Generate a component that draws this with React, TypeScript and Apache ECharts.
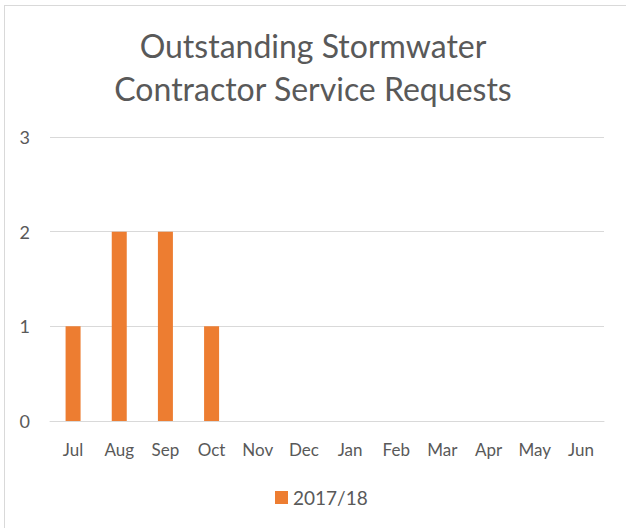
import React, { useEffect, useRef } from "react";
import * as echarts from "echarts";

const titleLines = ["Outstanding Stormwater", "Contractor Service Requests"];
const months = ["Jul", "Aug", "Sep", "Oct", "Nov", "Dec", "Jan", "Feb", "Mar", "Apr", "May", "Jun"];
const seriesName = "2017/18";
const values: (number | null)[] = [1, 2, 2, 1, null, null, null, null, null, null, null, null];
const yMin = 0;
const yMax = 3;
const yInterval = 1;

const FONT = "Lato";
const TEXT = "#595959";

export default function App() {
  const ref = useRef<HTMLDivElement>(null);
  useEffect(() => {
    if (!ref.current) return;
    const chart = echarts.init(ref.current, undefined, { renderer: "svg" });
    chart.setOption({
      animation: false,
      backgroundColor: "#ffffff",
      textStyle: { fontFamily: FONT },
      title: {
        text: titleLines.join("\n"),
        left: "center",
        top: 19,
        textStyle: { fontFamily: FONT, fontSize: 32, fontWeight: "normal", color: TEXT, lineHeight: 43 },
      },
      grid: { left: 50, right: 22, top: 137, bottom: 107, containLabel: false },
      xAxis: {
        type: "category",
        data: months,
        axisLine: { show: true, lineStyle: { color: "#d9d9d9", width: 1 } },
        axisTick: { show: false },
        axisLabel: { color: TEXT, fontSize: 17, fontFamily: FONT, margin: 20 },
      },
      yAxis: {
        type: "value",
        min: yMin,
        max: yMax,
        interval: yInterval,
        axisLine: { show: false },
        axisTick: { show: false },
        axisLabel: { color: TEXT, fontSize: 18, fontFamily: FONT, margin: 20 },
        splitLine: { lineStyle: { color: "#d9d9d9", width: 1 } },
      },
      legend: {
        top: 488,
        left: 275,
        itemWidth: 13,
        itemHeight: 13,
        itemGap: 10,
        padding: 0,
        icon: "rect",
        textStyle: { color: TEXT, fontSize: 19, fontFamily: FONT },
        data: [seriesName],
      },
      series: [
        {
          name: seriesName,
          type: "bar",
          data: values,
          barWidth: 15,
          itemStyle: { color: "#ED7D31" },
        },
      ],
      graphic: [
        { type: "line", shape: { x1: 4.5, y1: 5, x2: 4.5, y2: 528 }, style: { stroke: "#d9d9d9", lineWidth: 1 } },
        { type: "line", shape: { x1: 4, y1: 5.5, x2: 626, y2: 5.5 }, style: { stroke: "#d9d9d9", lineWidth: 1 } },
      ],
    });
    return () => chart.dispose();
  }, []);
  return <div ref={ref} style={{ position: "fixed", left: 0, top: 0, width: 626, height: 528 }} />;
}
